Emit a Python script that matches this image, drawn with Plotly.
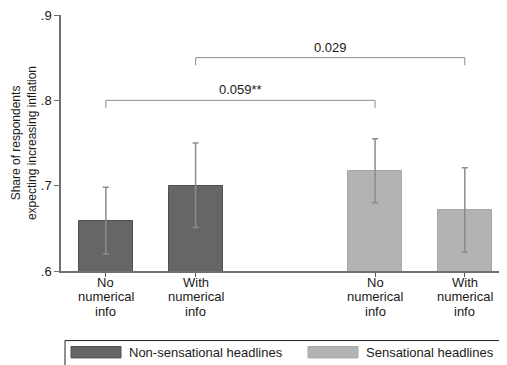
import plotly.graph_objects as go

# ---- data ----
category_lines = [["No", "numerical", "info"], ["With", "numerical", "info"],
                  ["No", "numerical", "info"], ["With", "numerical", "info"]]
positions = [1, 2, 4, 5]
non_sens_values = [0.659, 0.700]
non_sens_ci_low = [0.620, 0.651]
non_sens_ci_high = [0.698, 0.750]
sens_values = [0.717, 0.671]
sens_ci_low = [0.680, 0.622]
sens_ci_high = [0.755, 0.721]
series_names = ["Non-sensational headlines", "Sensational headlines"]
y_ticks = [0.6, 0.7, 0.8, 0.9]
y_ticktext = [".6", ".7", ".8", ".9"]
bracket_labels = ["0.059**", "0.029"]
bracket_from = [1, 2]
bracket_to = [4, 5]
bracket_level = [0.80, 0.85]

DARK = "#666666"
LIGHT = "#b3b3b3"
FONT = "Liberation Sans, Arial, sans-serif"
TXT = "#1a1a1a"

fig = go.Figure()

fig.add_trace(go.Bar(
    x=positions[:2], y=non_sens_values, width=0.6, name=series_names[0],
    marker=dict(color=DARK, line=dict(color="#505050", width=1)),
    error_y=dict(type="data", symmetric=False,
                 array=[h - v for h, v in zip(non_sens_ci_high, non_sens_values)],
                 arrayminus=[v - l for l, v in zip(non_sens_ci_low, non_sens_values)],
                 color="#8c8c8c", thickness=1.5, width=3),
    showlegend=False))
fig.add_trace(go.Bar(
    x=positions[2:], y=sens_values, width=0.6, name=series_names[1],
    marker=dict(color=LIGHT, line=dict(color="#a6a6a6", width=1)),
    error_y=dict(type="data", symmetric=False,
                 array=[h - v for h, v in zip(sens_ci_high, sens_values)],
                 arrayminus=[v - l for l, v in zip(sens_ci_low, sens_values)],
                 color="#8c8c8c", thickness=1.5, width=3),
    showlegend=False))

# the page body has an 8px margin; positions below are window pixels
def px_x(p):
    return (p - 61) / 446.0

def px_y(p):
    return (271.3 - p) / 258.3

shapes = []
annotations = []
leg = 0.009
for lab, a, b, lv in zip(bracket_labels, bracket_from, bracket_to, bracket_level):
    shapes.append(dict(type="path", xref="x", yref="y",
                       path=f"M {a},{lv - leg} L {a},{lv} L {b},{lv} L {b},{lv - leg}",
                       line=dict(color="#8a8a8a", width=1)))
    annotations.append(dict(x=(a + b) / 2, y=lv, xref="x", yref="y", text=lab,
                            showarrow=False, yanchor="bottom", yshift=1,
                            font=dict(size=13, color=TXT, family=FONT)))

# category labels, one line each (tight line spacing)
line_y = [282.5, 297.5, 312.5]
for pos, lines in zip(positions, category_lines):
    for ly, t in zip(line_y, lines):
        annotations.append(dict(x=pos, y=px_y(ly), xref="x", yref="paper", text=t,
                                showarrow=False, xanchor="center", yanchor="middle",
                                font=dict(size=13, color=TXT, family=FONT)))

# legend box (manual)
shapes.append(dict(type="rect", xref="paper", yref="paper",
                   x0=px_x(65), x1=px_x(504), y0=px_y(368), y1=px_y(341.5),
                   line=dict(color="#222", width=1), fillcolor="white"))
for name, col, lc, sx in zip(series_names, [DARK, LIGHT], ["#505050", "#a6a6a6"], [71, 308]):
    shapes.append(dict(type="rect", xref="paper", yref="paper",
                       x0=px_x(sx), x1=px_x(sx + 50), y0=px_y(359), y1=px_y(347.5),
                       line=dict(color=lc, width=1), fillcolor=col))
    annotations.append(dict(x=px_x(sx + 56), y=px_y(353.5), xref="paper", yref="paper",
                            text=name, showarrow=False, xanchor="left", yanchor="middle",
                            font=dict(size=13, color=TXT, family=FONT)))

fig.update_layout(
    width=499, height=357,
    margin=dict(l=53, r=0, t=5, b=93.7, pad=0),
    paper_bgcolor="white", plot_bgcolor="white",
    font=dict(family=FONT, size=13, color=TXT),
    bargap=0, shapes=shapes, annotations=annotations,
    showlegend=False,
)
fig.update_xaxes(range=[0.5, 5.47], tickvals=positions, ticktext=["", "", "", ""],
                 showline=True, linecolor="#707070", linewidth=1.5,
                 ticks="outside", ticklen=4, tickcolor="#555", showgrid=False,
                 zeroline=False)
fig.update_yaxes(range=[0.6, 0.9], tickvals=y_ticks, ticktext=y_ticktext,
                 showline=True, linecolor="#707070", linewidth=1.5,
                 ticks="outside", ticklen=5, tickcolor="#707070", showgrid=False,
                 zeroline=False, tickfont=dict(size=13, color=TXT),
                 ticklabeloverflow="allow",
                 title=dict(text="Share of respondents<br>expecting increasing inflation",
                            font=dict(size=12, color=TXT), standoff=2))

fig.write_html("out.html")
